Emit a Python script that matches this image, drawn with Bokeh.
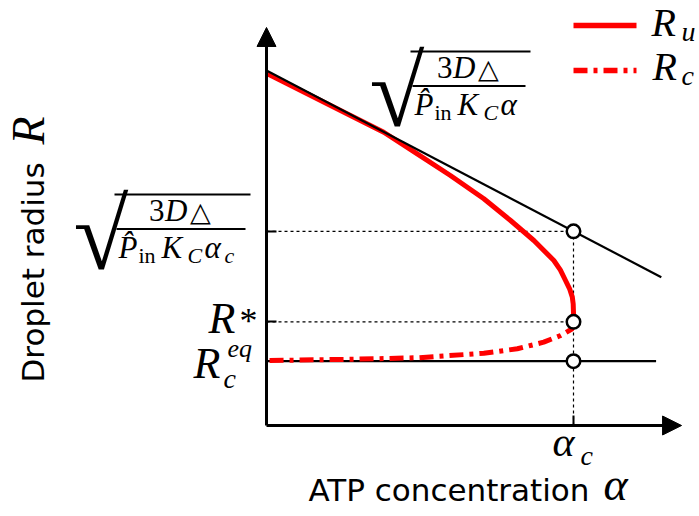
import math
from bokeh.plotting import figure
from bokeh.models import Range1d, FixedTicker, Label, Arrow, NormalHead
from bokeh.embed import file_html
from bokeh.resources import INLINE

# ---------------- data (schematic values) ----------------
alpha_c = 1.0            # critical ATP concentration
R_eq = 1.0               # R_c^eq
R_star = 1.613           # R*
R_sqrt_c = 3.02          # sqrt(3DΔ/(P K_C α_c))

asym_alpha = [0.0, 1.286]          # sqrt(3DΔ/(P K_C α)) guide line
asym_R = [5.521, 2.306]
eq_alpha = [0.0, 1.269]            # R_c^eq guide line
eq_R = [1.0, 1.0]

Ru_alpha = [0.0, 0.165, 0.382, 0.491, 0.599, 0.708, 0.795, 0.871, 0.936, 0.957, 0.974,
            0.987, 0.996, 0.999, 1.0, 1.0]
Ru_R = [5.479, 5.081, 4.561, 4.225, 3.888, 3.526, 3.188, 2.877, 2.566, 2.42, 2.255,
        2.13, 2.0, 1.89, 1.75, 1.613]

Rc_alpha = [0.01, 0.274, 0.491, 0.708, 0.817, 0.903, 0.958, 0.996, 1.0]
Rc_R = [1.011, 1.03, 1.053, 1.124, 1.193, 1.296, 1.400, 1.504, 1.613]

alpha_tip = 1.352
R_tip = 6.19

# ---------------- layout ----------------
W, H = 699, 514
PXA = 307.0      # pixels per alpha unit
PXR = 64.3       # pixels per R unit
X0 = 266         # canvas x of alpha = 0
Y0 = 425         # canvas y of R = 0
BASE = 0.36      # baseline correction (fraction of font size)

SERIF = "Liberation Serif"
SANS = "DejaVu Sans"
RED = "#ff0000"


def da(px):
    return (px - X0) / PXA


def dr(py):
    return (Y0 - py) / PXR


p = figure(width=W, height=H,
           x_range=Range1d(da(0), da(W)), y_range=Range1d(dr(H), dr(0)),
           output_backend="svg", toolbar_location=None,
           min_border_left=0, min_border_bottom=0, min_border_top=0, min_border_right=0)
p.outline_line_color = None
p.grid.visible = False
p.background_fill_color = "white"
p.border_fill_color = "white"

p.xaxis.fixed_location = 0
p.yaxis.fixed_location = 0
p.xaxis.ticker = FixedTicker(ticks=[alpha_c])
p.yaxis.ticker = FixedTicker(ticks=[R_star, R_sqrt_c])
p.xaxis.major_label_overrides = {alpha_c: ""}
p.yaxis.major_label_overrides = {R_star: "", R_sqrt_c: ""}
p.axis.major_label_text_font_size = "0px"
p.axis.major_label_standoff = 0
p.axis.axis_line_width = 3
p.axis.axis_line_color = "black"
p.axis.major_tick_in = 10
p.axis.major_tick_out = 0
p.axis.major_tick_line_width = 2
p.axis.major_tick_line_color = "black"
p.axis.minor_tick_line_color = None
p.xaxis.bounds = (0, alpha_tip - 0.04)
p.yaxis.bounds = (0, R_tip - 0.2)

p.add_layout(Arrow(end=NormalHead(size=19, fill_color="black", line_color="black", line_width=1),
                   x_start=0, y_start=R_tip - 0.3, x_end=0, y_end=R_tip, line_width=3))
p.add_layout(Arrow(end=NormalHead(size=19, fill_color="black", line_color="black", line_width=1),
                   x_start=alpha_tip - 0.06, y_start=0, x_end=alpha_tip, y_end=0, line_width=3))

# dotted guides
p.line([0, alpha_c], [R_sqrt_c, R_sqrt_c], line_color="black", line_width=1.2, line_dash="3 3")
p.line([0, alpha_c], [R_star, R_star], line_color="black", line_width=1.2, line_dash="3 3")
p.line([alpha_c, alpha_c], [0, R_sqrt_c], line_color="black", line_width=1.2, line_dash="3 3")

# curves
p.line(eq_alpha, eq_R, line_color="black", line_width=2.2)
p.line(Rc_alpha, Rc_R, line_color=RED, line_width=5, line_dash="14 6 4 6")
p.line(Ru_alpha, Ru_R, line_color=RED, line_width=5, line_join="round")
p.line(asym_alpha, asym_R, line_color="black", line_width=2.2)
p.scatter([alpha_c] * 3, [R_sqrt_c, R_star, R_eq], size=13.5, fill_color="white",
          line_color="black", line_width=2.5)


# ---------------- annotations (canvas-pixel placement, py = baseline) ----------------
def T(px, py, text, size, font=SERIF, style="italic", angle=0.0):
    if angle:
        px = px - BASE * size
    else:
        py = py - BASE * size
    p.add_layout(Label(x=da(px), y=dr(py), text=text, text_font=font,
                       text_font_size=f"{size}px", text_font_style=style,
                       text_align="left", text_baseline="alphabetic", angle=angle,
                       text_color="black"))


def S(px1, py1, px2, py2, width, color="black", dash="solid"):
    p.add_layout(Arrow(start=None, end=None, x_start=da(px1), y_start=dr(py1),
                       x_end=da(px2), y_end=dr(py2), line_width=width,
                       line_color=color, line_dash=dash))


def sqrt_frac(rx, ry, denom, bar_len, over_len):
    T(rx - 4, ry + 78, "√", 100, style="normal")
    S(rx + 37, ry + 1, rx + over_len, ry + 1, 1.8)
    S(rx + 39, ry + 35.5, rx + 39 + bar_len, ry + 35.5, 1.8)
    cx = rx + 39 + bar_len / 2
    T(cx - 32, ry + 28, "3", 31, style="normal")
    T(cx - 16, ry + 28, "D", 31)
    T(cx + 9, ry + 28, "△", 27, font=SANS, style="normal")
    for dx, text, kind in denom:
        if kind == "main":
            T(rx + dx, ry + 65.5, text, 31)
        elif kind == "sub":
            T(rx + dx, ry + 70, text, 22)
        else:
            T(rx + dx, ry + 70, text, 22, style="normal")


den_top = [(41, "P\u0302", "main"), (61, "in", "up"), (84, "K", "main"),
           (110, "C", "sub"), (127, "α", "main")]
den_left = den_top + [(147, "c", "sub")]
sqrt_frac(373, 50, den_top, 113, 157)
sqrt_frac(77, 193, den_left, 129, 173)

# tick labels
T(208, 334, "R", 44)
T(239, 333, "*", 36, style="normal")
T(193, 379, "R", 44)
T(223, 388, "c", 28)
T(227, 357, "eq", 26)
T(552, 457, "α", 42)
T(580, 465, "c", 28)

# axis titles
T(308, 501, "ATP concentration", 31, font=SANS, style="normal")
T(603, 501, "α", 46)
T(44, 382, "Droplet radius", 31, font=SANS, style="normal", angle=math.pi / 2)
T(45, 144, "R", 46, angle=math.pi / 2)

# legend
S(573, 25, 636, 25, 5.5, RED)
T(651, 36, "R", 40)
T(681, 41, "u", 28)
S(573, 70, 636, 70, 5.5, RED, "14 6 4 6")
T(652, 80, "R", 40)
T(681, 85, "c", 28)

open("out.html", "w").write(file_html(p, INLINE))
